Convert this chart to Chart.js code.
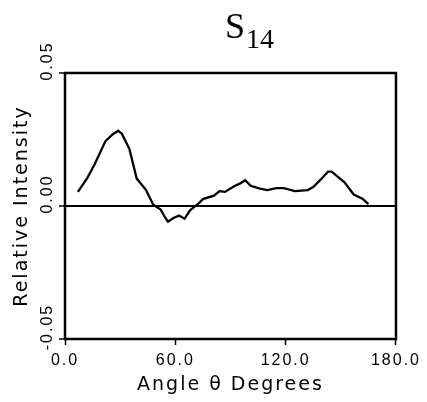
<!DOCTYPE html>
<html><head><meta charset="utf-8">
<script src="https://cdn.jsdelivr.net/npm/chart.js@4/dist/chart.umd.min.js"></script>
<style>html,body{margin:0;padding:0;background:#fff}canvas{display:block}</style>
</head><body>
<canvas id="c" width="427" height="402"></canvas>
<script>
// Data
const angles = [7, 12, 16, 22, 26, 29, 31, 35, 39, 44, 48, 52, 54.5, 56, 59, 62, 65, 68, 73, 75, 81, 84, 87, 92, 95, 98, 101, 106, 110, 115, 119, 125, 132, 135, 139, 143, 145, 152, 157, 162, 165];
const intensity = [0.0053, 0.0104, 0.0155, 0.0244, 0.0270, 0.0283, 0.0271, 0.0215, 0.0103, 0.0061, 0.0005, -0.0013, -0.0044, -0.0059, -0.0045, -0.0036, -0.0048, -0.0016, 0.0012, 0.0026, 0.0039, 0.0056, 0.0053, 0.0074, 0.0084, 0.0097, 0.0076, 0.0065, 0.0060, 0.0067, 0.0067, 0.0056, 0.0060, 0.0071, 0.0099, 0.0129, 0.0129, 0.0089, 0.0043, 0.0026, 0.0007];
const xTicks = [0, 60, 120, 180];
const yTicks = [-0.05, 0, 0.05];
const titleMain = 'S';
const titleSub = '14';
const xTitle = 'Angle θ Degrees';
const yTitle = 'Relative Intensity';

const points = angles.map((a, i) => ({x: a, y: intensity[i]}));

const framePlugin = {
  id: 'frame',
  beforeUpdate(chart) { chart.ctx.letterSpacing = '2px'; },
  beforeDraw(chart) {
    const ctx = chart.ctx;
    ctx.letterSpacing = '2px';
    ctx.save();
    ctx.fillStyle = '#fff';
    ctx.fillRect(0, 0, chart.width, chart.height);
    ctx.restore();
  },
  beforeDatasetsDraw(chart) {
    const {ctx, chartArea: a} = chart;
    ctx.save();
    ctx.lineWidth = 2.5;
    ctx.strokeStyle = '#000';
    ctx.strokeRect(a.left, a.top, a.right - a.left, a.bottom - a.top);
    ctx.restore();
  },
  afterDraw(chart) {
    const ctx = chart.ctx;
    ctx.save();
    ctx.letterSpacing = '0px';
    ctx.fillStyle = '#000';
    ctx.textBaseline = 'alphabetic';
    ctx.font = '36px "Liberation Serif", "Times New Roman", serif';
    const x0 = 225;
    ctx.fillText(titleMain, x0, 38);
    const w = ctx.measureText(titleMain).width;
    ctx.font = '28px "Liberation Serif", "Times New Roman", serif';
    ctx.fillText(titleSub, x0 + w + 1, 48);
    ctx.restore();
  }
};

const tickFont = {family: '"Liberation Sans", Arial, sans-serif', size: 16};
const titleFont = {family: '"DejaVu Sans", sans-serif', size: 19};

new Chart(document.getElementById('c'), {
  type: 'line',
  data: {
    datasets: [{
      data: points,
      borderColor: '#000',
      borderWidth: 2.3,
      pointRadius: 0,
      tension: 0,
      fill: false
    }]
  },
  options: {
    responsive: false,
    animation: false,
    devicePixelRatio: 1,
    layout: {padding: {top: 73, right: 27, bottom: 0, left: 0}},
    plugins: {legend: {display: false}, tooltip: {enabled: false}},
    scales: {
      x: {
        type: 'linear', min: 0, max: 180,
        afterBuildTicks: s => { s.ticks = xTicks.map(v => ({value: v})); },
        afterFit: s => { s.height = 63; },
        border: {display: false},
        grid: {drawOnChartArea: false, tickColor: '#000', tickLength: 6, tickWidth: 1.5},
        ticks: {padding: 6, maxRotation: 0, autoSkip: false, color: '#000', font: tickFont,
                callback: v => Number(v).toFixed(1)},
        title: {display: true, text: xTitle, color: '#000', font: titleFont, padding: {top: 0, bottom: 6}}
      },
      y: {
        type: 'linear', min: -0.05, max: 0.05,
        afterBuildTicks: s => { s.ticks = yTicks.map(v => ({value: v})); },
        afterFit: s => { s.width = 65; },
        border: {display: false},
        grid: {
          drawOnChartArea: true,
          color: c => (c.tick && c.tick.value === 0) ? '#000' : 'rgba(0,0,0,0)',
          lineWidth: 2, tickColor: '#000', tickLength: 6, tickWidth: 1.5
        },
        ticks: {minRotation: 90, maxRotation: 90, crossAlign: 'center', padding: -12, labelOffset: -12,
                color: '#000', font: tickFont, callback: v => Number(v).toFixed(2)},
        title: {display: true, text: yTitle, color: '#000', font: titleFont, padding: {top: 11, bottom: 0}}
      }
    }
  },
  plugins: [framePlugin]
});
</script>
</body></html>
